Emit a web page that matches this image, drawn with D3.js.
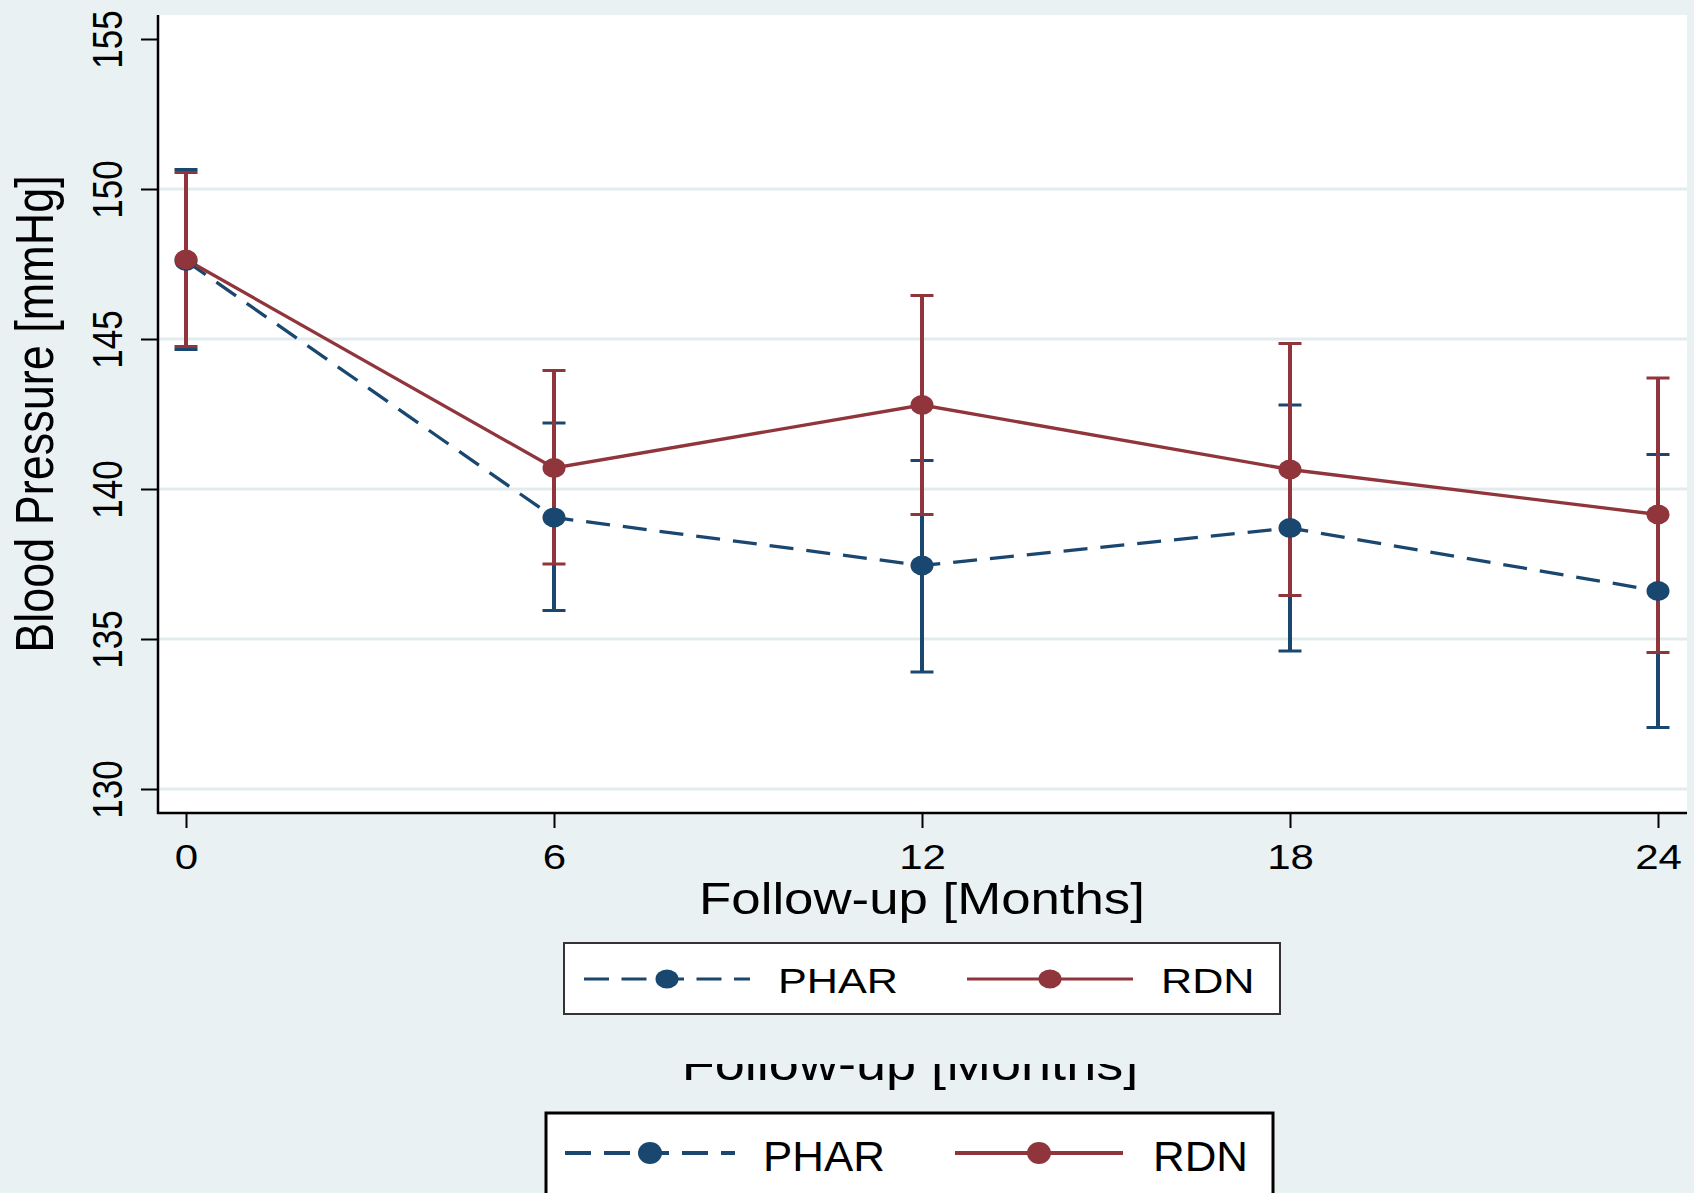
<!DOCTYPE html>
<html>
<head>
<meta charset="utf-8">
<script src="https://cdn.jsdelivr.net/npm/d3@7"></script>
<style>
  html, body { margin: 0; padding: 0; background: #E9F1F3; }
  svg { display: block; }
</style>
</head>
<body>
<svg id="chart" width="1694" height="1193"></svg>
<script>
// Follow-up months and blood pressure summaries (mean with confidence limits)
const months = [0, 6, 12, 18, 24];
const pharMean = [147.6, 139.05, 137.45, 138.7, 136.6];
const pharLow  = [144.65, 135.95, 133.9, 134.6, 132.05];
const pharHigh = [150.65, 142.2, 140.95, 142.8, 141.15];
const rdnMean  = [147.65, 140.7, 142.8, 140.65, 139.15];
const rdnLow   = [144.75, 137.5, 139.15, 136.45, 134.55];
const rdnHigh  = [150.55, 143.95, 146.45, 144.85, 143.7];
const yTicks = [130, 135, 140, 145, 150, 155];
const gridValues = [130, 135, 140, 145, 150];
const xTicks = [0, 6, 12, 18, 24];
const seriesNames = ["PHAR", "RDN"];
const xTitle = "Follow-up [Months]";
const yTitle = "Blood Pressure [mmHg]";

const W = 1694, H = 1193;
const BG = "#E9F1F3";
const GRID = "#E2EBEE";
const FONT = "'Liberation Sans', Arial, Helvetica, sans-serif";
const NAVY = "#1A476F", MAROON = "#90353B";

const svg = d3.select("#chart");
svg.append("rect").attr("width", W).attr("height", H).attr("fill", BG);

// plot region
const plot = { left: 158, top: 15, right: 1687, bottom: 813 };
const x = d3.scaleLinear().domain([0, 24]).range([186, 1658]);
const y = d3.scaleLinear().domain([130, 155]).range([789, 39]);

svg.append("rect")
  .attr("x", plot.left).attr("y", plot.top)
  .attr("width", plot.right - plot.left).attr("height", plot.bottom - plot.top)
  .attr("fill", "#ffffff");

// horizontal grid
svg.append("g").selectAll("line").data(gridValues).join("line")
  .attr("x1", plot.left).attr("x2", plot.right)
  .attr("y1", d => y(d)).attr("y2", d => y(d))
  .attr("stroke", GRID).attr("stroke-width", 3);

const series = [
  { name: seriesNames[0], color: NAVY, dash: "24,13", mean: pharMean, low: pharLow, high: pharHigh },
  { name: seriesNames[1], color: MAROON, dash: null, mean: rdnMean, low: rdnLow, high: rdnHigh }
];

// confidence intervals
const capHalf = 11.5;
series.forEach(s => {
  const g = svg.append("g");
  months.forEach((m, i) => {
    const cx = x(m);
    g.append("line").attr("x1", cx).attr("x2", cx)
      .attr("y1", y(s.low[i])).attr("y2", y(s.high[i]))
      .attr("stroke", s.color).attr("stroke-width", 4);
    [s.low[i], s.high[i]].forEach(v => {
      g.append("line").attr("x1", cx - capHalf).attr("x2", cx + capHalf)
        .attr("y1", y(v)).attr("y2", y(v))
        .attr("stroke", s.color).attr("stroke-width", 3);
    });
  });
});

// connecting lines
const lineGen = d3.line().x((d, i) => x(months[i])).y(d => y(d));
series.forEach(s => {
  svg.append("path").datum(s.mean)
    .attr("d", lineGen)
    .attr("fill", "none")
    .attr("stroke", s.color).attr("stroke-width", 3.3)
    .attr("stroke-dasharray", s.dash);
});

// markers
series.forEach(s => {
  svg.append("g").selectAll("ellipse").data(s.mean).join("ellipse")
    .attr("cx", (d, i) => x(months[i])).attr("cy", d => y(d))
    .attr("rx", 11.5).attr("ry", 10)
    .attr("fill", s.color);
});

// axes
const yAxis = svg.append("g").attr("transform", `translate(${plot.left},0)`)
  .call(d3.axisLeft(y).tickValues(yTicks).tickSize(17).tickSizeOuter(0));
yAxis.select(".domain").remove();
yAxis.selectAll(".tick line").attr("stroke", "#000").attr("stroke-width", 2);
yAxis.selectAll(".tick text")
  .attr("x", null).attr("dy", null)
  .attr("transform", "translate(-36,0) scale(1.2,1) rotate(-90)")
  .attr("text-anchor", "middle")
  .attr("fill", "#000")
  .style("font-family", FONT).style("font-size", "35px");

const xAxis = svg.append("g").attr("transform", `translate(0,${plot.bottom})`)
  .call(d3.axisBottom(x).tickValues(xTicks).tickSize(15).tickSizeOuter(0));
xAxis.select(".domain").remove();
xAxis.selectAll(".tick line").attr("stroke", "#000").attr("stroke-width", 2);
xAxis.selectAll(".tick text")
  .attr("y", 56).attr("dy", null)
  .attr("transform", "scale(1.2,1)")
  .attr("fill", "#000")
  .style("font-family", FONT).style("font-size", "35px");

// axis lines
svg.append("line").attr("x1", plot.left).attr("x2", plot.left)
  .attr("y1", plot.top).attr("y2", plot.bottom + 1)
  .attr("stroke", "#000").attr("stroke-width", 2.5);
svg.append("line").attr("x1", plot.left - 1).attr("x2", plot.right)
  .attr("y1", plot.bottom).attr("y2", plot.bottom)
  .attr("stroke", "#000").attr("stroke-width", 2.5);

// axis titles
svg.append("text")
  .attr("transform", "translate(922,914) scale(1.2,1)")
  .attr("text-anchor", "middle")
  .style("font-family", FONT).style("font-size", "44px")
  .text(xTitle);
svg.append("text")
  .attr("transform", "translate(53,414) scale(1.18,1) rotate(-90)")
  .attr("text-anchor", "middle")
  .style("font-family", FONT).style("font-size", "45px")
  .text(yTitle);

// legend drawing
function drawLegend(opt) {
  const g = svg.append("g");
  g.append("rect")
    .attr("x", opt.x0).attr("y", opt.y0)
    .attr("width", opt.x1 - opt.x0).attr("height", opt.y1 - opt.y0)
    .attr("fill", "#ffffff").attr("stroke", opt.border).attr("stroke-width", opt.borderWidth);
  series.forEach((s, k) => {
    const e = opt.entries[k];
    g.append("line")
      .attr("x1", e.lineStart).attr("x2", e.lineEnd)
      .attr("y1", opt.ly).attr("y2", opt.ly)
      .attr("stroke", s.color).attr("stroke-width", opt.lineWidth)
      .attr("stroke-dasharray", s.dash ? opt.dash : null);
    g.append("ellipse")
      .attr("cx", (e.lineStart + e.lineEnd) / 2).attr("cy", opt.ly)
      .attr("rx", opt.rx).attr("ry", opt.ry)
      .attr("fill", s.color);
    g.append("text")
      .attr("transform", `translate(${e.textX},${opt.baseline}) scale(${opt.sx},1)`)
      .style("font-family", FONT).style("font-size", opt.fontSize + "px")
      .attr("fill", "#000")
      .text(s.name);
  });
}

drawLegend({
  x0: 564, x1: 1280, y0: 943, y1: 1014, border: "#333", borderWidth: 2,
  ly: 979, lineWidth: 3, dash: "25,12.5", rx: 11.5, ry: 9.5,
  baseline: 993, fontSize: 36, sx: 1.2,
  entries: [
    { lineStart: 584, lineEnd: 750, textX: 778 },
    { lineStart: 967, lineEnd: 1133, textX: 1161 }
  ]
});

// lower panel: title partly hidden behind the upper panel, and its legend
const clip = svg.append("defs").append("clipPath").attr("id", "lowerClip");
clip.append("rect").attr("x", 0).attr("y", 1064).attr("width", W).attr("height", H - 1064);
svg.append("g")
  .attr("clip-path", "url(#lowerClip)")
  .append("text")
  .attr("transform", "translate(910,1080) scale(1.15,1)")
  .attr("text-anchor", "middle")
  .attr("fill", "#000")
  .style("font-family", FONT).style("font-size", "47px")
  .text(xTitle);

drawLegend({
  x0: 546, x1: 1273, y0: 1113, y1: 1210, border: "#000", borderWidth: 3,
  ly: 1153, lineWidth: 4, dash: "26,13", rx: 12, ry: 11,
  baseline: 1171, fontSize: 43, sx: 1.02,
  entries: [
    { lineStart: 565, lineEnd: 735, textX: 763 },
    { lineStart: 955, lineEnd: 1123, textX: 1153 }
  ]
});
</script>
</body>
</html>
